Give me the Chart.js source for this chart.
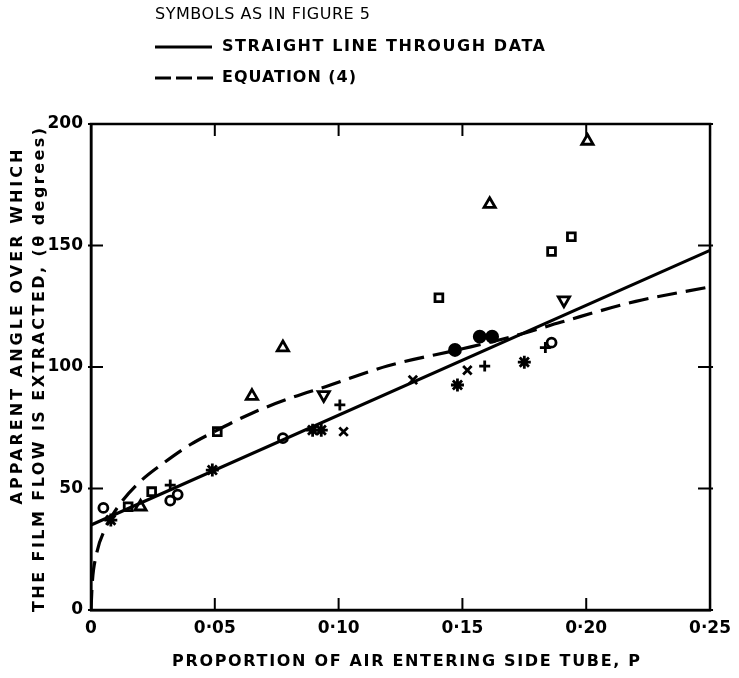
<!DOCTYPE html>
<html>
<head>
<meta charset="utf-8">
<script src="https://cdn.jsdelivr.net/npm/chart.js@4/dist/chart.umd.min.js"></script>
<style>
  html, body { margin: 0; padding: 0; background: #fff; }
  #wrap { width: 739px; height: 678px; }
</style>
</head>
<body>
<div id="wrap"><canvas id="myChart"></canvas></div>
<script>
// values
const xTicks = [0, 0.05, 0.10, 0.15, 0.20, 0.25];
const yTicks = [0, 50, 100, 150, 200];

const openCircles = [[0.005, 42], [0.032, 45], [0.035, 47.5], [0.0775, 70.7], [0.186, 110]];
const filledCircles = [[0.147, 107], [0.157, 112.5], [0.162, 112.5]];
const trianglesUp = [[0.020, 42.5], [0.065, 88], [0.0775, 108], [0.161, 167], [0.2005, 193]];
const trianglesDown = [[0.094, 88.5], [0.191, 127.5]];
const squares = [[0.015, 42.5], [0.0245, 48.7], [0.051, 73.4], [0.1405, 128.5], [0.186, 147.5], [0.194, 153.6]];
const crosses = [[0.102, 73.4], [0.130, 94.7], [0.152, 98.7]];
const pluses = [[0.032, 51.4], [0.1005, 84.4], [0.159, 100.4], [0.1835, 108]];
const stars = [[0.008, 37], [0.049, 57.6], [0.0895, 74], [0.093, 74], [0.148, 92.6], [0.175, 102]];

const fitX = [0, 0.25];
const fitY = [35, 148];

const eqX = [0, 0.0005, 0.002, 0.006, 0.012, 0.02, 0.03, 0.04, 0.05, 0.065, 0.08, 0.095, 0.12, 0.15, 0.17, 0.19, 0.22, 0.25];
const eqY = [0, 11, 22, 34, 44, 53, 61, 68, 73.5, 81, 87, 92, 100.5, 107.5, 112.5, 118.5, 127, 133];

const toPts = arr => arr.map(p => ({x: p[0], y: p[1]}));
const zip = (xs, ys) => xs.map((x, i) => ({x: x, y: ys[i]}));

const FONT = '"DejaVu Sans", sans-serif';

function markers(data, style, opts) {
  return Object.assign({
    type: 'scatter',
    data: toPts(data),
    pointStyle: style,
    pointRadius: 5,
    pointBorderWidth: 2.8,
    pointBorderColor: '#000',
    pointBackgroundColor: 'rgba(0,0,0,0)',
    showLine: false
  }, opts || {});
}

// draws text stretched to a given width with letter spacing
function fitText(ctx, text, x, y, width, align) {
  ctx.letterSpacing = '0px';
  const w = ctx.measureText(text).width;
  const sp = (width - w) / (text.length - 1);
  ctx.letterSpacing = sp + 'px';
  ctx.textAlign = 'left';
  let start = x;
  if (align === 'center') start = x - width / 2;
  ctx.fillText(text, start, y);
  ctx.letterSpacing = '0px';
}

const framePlugin = {
  id: 'framePlugin',
  afterDraw(chart) {
    const ctx = chart.ctx;
    const a = chart.chartArea;
    const xs = chart.scales.x, ys = chart.scales.y;
    ctx.save();
    ctx.strokeStyle = '#000';
    ctx.lineWidth = 2.5;
    ctx.strokeRect(a.left, a.top, a.right - a.left, a.bottom - a.top);
    ctx.lineWidth = 2;
    xTicks.forEach(v => {
      const px = xs.getPixelForValue(v);
      ctx.beginPath();
      ctx.moveTo(px, a.bottom); ctx.lineTo(px, a.bottom - 12);
      ctx.moveTo(px, a.top); ctx.lineTo(px, a.top + 12);
      ctx.stroke();
    });
    yTicks.forEach(v => {
      const py = ys.getPixelForValue(v);
      ctx.beginPath();
      ctx.moveTo(a.left - 3, py); ctx.lineTo(a.left + 12, py);
      ctx.moveTo(a.right + 3, py); ctx.lineTo(a.right - 12, py);
      ctx.stroke();
    });

    ctx.fillStyle = '#000';
    ctx.textBaseline = 'middle';
    // heading / legend
    ctx.font = '16px ' + FONT;
    fitText(ctx, 'SYMBOLS AS IN FIGURE 5', 155, 15, 215);
    ctx.font = 'bold 16px ' + FONT;
    fitText(ctx, 'STRAIGHT LINE THROUGH DATA', 222, 47, 323);
    fitText(ctx, 'EQUATION (4)', 222, 78, 134);
    ctx.lineWidth = 3;
    ctx.beginPath(); ctx.moveTo(155, 47); ctx.lineTo(212, 47); ctx.stroke();
    ctx.setLineDash([16, 5]);
    ctx.beginPath(); ctx.moveTo(155, 78); ctx.lineTo(213, 78); ctx.stroke();
    ctx.setLineDash([]);

    // x title
    ctx.font = 'bold 16px ' + FONT;
    fitText(ctx, 'PROPORTION OF AIR ENTERING SIDE TUBE, P', 406, 662, 468, 'center');

    // y title (two rotated lines)
    ctx.save();
    ctx.translate(18, 327);
    ctx.rotate(-Math.PI / 2);
    fitText(ctx, 'APPARENT ANGLE OVER WHICH', 0, 0, 355, 'center');
    ctx.restore();
    ctx.save();
    ctx.translate(40, 370);
    ctx.rotate(-Math.PI / 2);
    fitText(ctx, 'THE FILM FLOW IS EXTRACTED, (\u03B8 degrees)', 0, 0, 484, 'center');
    ctx.restore();
    ctx.restore();
  }
};

const ctx = document.getElementById('myChart').getContext('2d');
const chart = new Chart(ctx, {
  type: 'scatter',
  data: {
    datasets: [
      {
        type: 'line', data: zip(eqX, eqY), borderColor: '#000', borderWidth: 3.2,
        borderDash: [20, 9], pointRadius: 0, cubicInterpolationMode: 'monotone', fill: false
      },
      {
        type: 'line', data: zip(fitX, fitY), borderColor: '#000', borderWidth: 3.2,
        pointRadius: 0, fill: false
      },
      markers(openCircles, 'circle', {pointRadius: 4.5}),
      markers(filledCircles, 'circle', {pointRadius: 5.5, pointBackgroundColor: '#000'}),
      markers(trianglesUp, 'triangle', {pointRadius: 6.5}),
      markers(trianglesDown, 'triangle', {pointRadius: 6.5, rotation: 180}),
      markers(squares, 'rect', {pointRadius: 5.5}),
      markers(crosses, 'crossRot', {pointRadius: 6}),
      markers(pluses, 'cross', {pointRadius: 5.5}),
      markers(stars, 'star', {pointRadius: 6.5})
    ]
  },
  options: {
    responsive: true,
    maintainAspectRatio: false,
    animation: false,
    layout: { padding: { top: 124, right: 24, left: 0, bottom: 0 } },
    plugins: { legend: { display: false }, tooltip: { enabled: false } },
    scales: {
      x: {
        type: 'linear', min: 0, max: 0.25,
        afterBuildTicks: s => { s.ticks = xTicks.map(v => ({value: v})); },
        afterFit: s => { s.height = 68; },
        grid: { display: true, drawOnChartArea: false, drawTicks: false },
        border: { color: '#000', width: 2.5 },
        ticks: {
          color: '#000', padding: 8, maxRotation: 0,
          font: { family: FONT, size: 17, weight: 'bold' },
          callback: v => v === 0 ? '0' : v.toFixed(2).replace('.', '\u00B7')
        }
      },
      y: {
        type: 'linear', min: 0, max: 200,
        afterBuildTicks: s => { s.ticks = yTicks.map(v => ({value: v})); },
        afterFit: s => { s.width = 91; },
        grid: { display: true, drawOnChartArea: false, drawTicks: false },
        border: { color: '#000', width: 2.5 },
        ticks: {
          color: '#000', padding: 8,
          font: { family: FONT, size: 17, weight: 'bold' }
        }
      }
    }
  },
  plugins: [framePlugin]
});
</script>
</body>
</html>
